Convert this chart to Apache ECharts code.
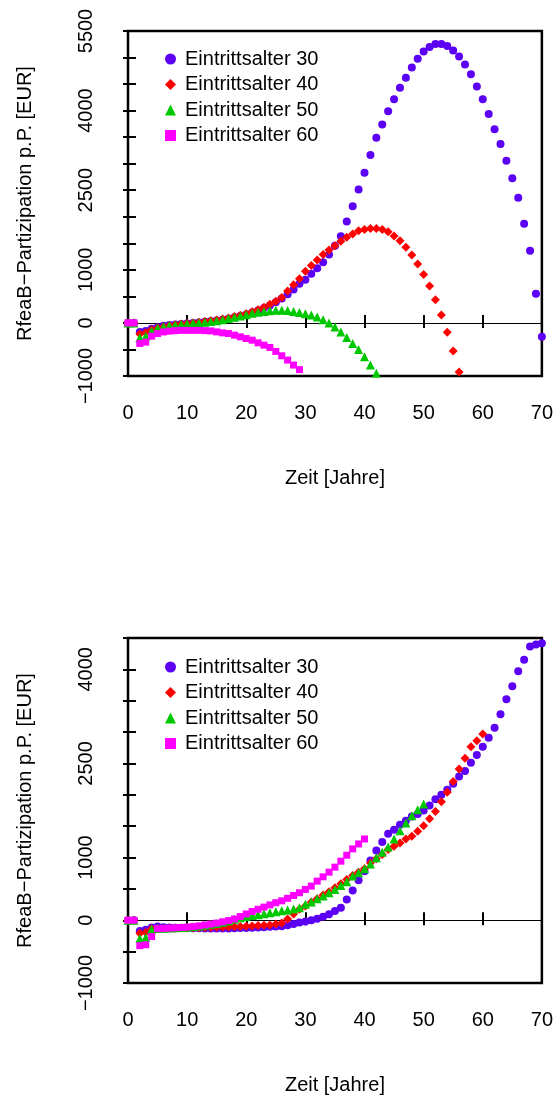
<!DOCTYPE html>
<html>
<head>
<meta charset="utf-8">
<script src="https://cdn.jsdelivr.net/npm/echarts@6/dist/echarts.min.js"></script>
<style>
html,body{margin:0;padding:0;background:#fff;}
#chart{width:556px;height:1098px;}
</style>
</head>
<body>
<div id="chart"></div>
<script>
// ---------- data ----------
const seriesNames = ['Eintrittsalter 30', 'Eintrittsalter 40', 'Eintrittsalter 50', 'Eintrittsalter 60'];
const years = [0,1,2,3,4,5,6,7,8,9,10,11,12,13,14,15,16,17,18,19,20,21,22,23,24,25,26,27,28,29,30,31,32,33,34,35,36,37,38,39,40,41,42,43,44,45,46,47,48,49,50,51,52,53,54,55,56,57,58,59,60,61,62,63,64,65,66,67,68,69,70];
const xTicks = [0,10,20,30,40,50,60,70];
const yLabelsTop = [-1000, 0, 1000, 2500, 4000, 5500];
const yLabelsBottom = [-1000, 0, 1000, 2500, 4000];

// upper panel
const top30 = [0,0,-170,-150,-110,-80,-55,-40,-30,-20,-10,0,10,20,30,45,60,80,105,130,160,195,235,280,330,390,460,540,630,737,812,925,1031,1144,1287,1456,1631,1912,2200,2512,2831,3162,3487,3737,3987,4212,4431,4619,4812,4975,5112,5200,5256,5256,5219,5131,5019,4869,4687,4456,4212,3937,3650,3369,3056,2725,2356,1869,1362,550,-262];
const top40 = [0,0,-210,-185,-130,-95,-70,-50,-35,-22,-10,0,12,25,40,55,75,95,120,145,175,210,250,295,350,410,480,600,720,831,975,1081,1187,1287,1375,1456,1537,1612,1675,1737,1762,1781,1781,1762,1719,1637,1550,1425,1281,1112,912,694,437,150,-175,-531,-925];
const top50 = [0,0,-280,-250,-150,-100,-70,-50,-38,-28,-18,-8,2,12,25,40,60,85,105,130,155,180,200,215,230,240,240,232,215,197,175,150,112,62,0,-75,-169,-275,-387,-500,-637,-794,-950];
const top60 = [0,0,-387,-362,-250,-200,-170,-155,-145,-140,-140,-140,-140,-145,-150,-169,-187,-200,-231,-262,-294,-325,-375,-419,-462,-537,-619,-700,-794,-880];

// lower panel
const bot30 = [0,0,-170,-150,-115,-100,-110,-115,-120,-122,-125,-127,-128,-130,-130,-130,-130,-130,-128,-125,-122,-120,-115,-110,-105,-100,-95,-80,-60,-37,-21,0,26,58,95,148,201,333,476,640,783,952,1111,1249,1381,1444,1524,1587,1656,1693,1751,1831,1931,2000,2079,2175,2291,2381,2513,2635,2767,2910,3069,3286,3524,3730,3968,4153,4365,4397,4418];
const bot40 = [0,0,-205,-195,-135,-130,-130,-128,-126,-124,-122,-120,-118,-116,-114,-112,-110,-108,-105,-100,-95,-90,-85,-80,-75,-60,-45,20,100,175,228,291,344,402,455,519,582,651,714,767,820,915,979,1048,1127,1180,1233,1296,1339,1418,1508,1619,1735,1889,2042,2212,2413,2582,2767,2862,2968];
const bot50 = [0,0,-290,-275,-145,-130,-128,-125,-120,-115,-110,-100,-90,-78,-65,-50,-30,-10,15,40,60,75,90,105,120,135,150,165,180,201,254,291,344,386,439,492,556,614,704,757,820,899,995,1085,1169,1296,1429,1550,1667,1762,1852];
const bot60 = [0,0,-405,-390,-260,-135,-130,-125,-120,-115,-110,-100,-90,-75,-60,-45,-25,-5,20,60,100,140,175,210,245,280,310,350,395,439,492,545,624,693,767,847,942,1037,1138,1217,1296];

// ---------- styles ----------
const colors = ['#5b00f5', '#ff0000', '#00c800', '#ff00ff'];
const symbols = ['circle', 'diamond', 'triangle', 'rect'];
const symSizes = [8, 9, 9, 7];
const FONT = 'Liberation Sans, Arial, Helvetica, sans-serif';

const chart = echarts.init(document.getElementById('chart'), null, {renderer: 'canvas'});

function pairs(vals) { return vals.map((v, i) => [years[i], v]); }

const grids = [
  {left: 128, top: 31, width: 416, height: 345},
  {left: 128, top: 638, width: 416, height: 345}
];
const yMax = [5500, 4500];
const yLabelSets = [yLabelsTop, yLabelsBottom];
const panelData = [[top30, top40, top50, top60], [bot30, bot40, bot50, bot60]];

const xAxes = [], yAxes = [], series = [], legends = [];
grids.forEach((g, gi) => {
  g.show = true; g.borderColor = '#000'; g.borderWidth = 2.5; g.backgroundColor = 'transparent';
  xAxes.push({
    type: 'value', gridIndex: gi, min: 0, max: 70, interval: 10, position: 'bottom',
    axisLine: {show: false}, splitLine: {show: false},
    axisTick: {show: true, inside: true, length: 8, lineStyle: {color: '#000', width: 2}},
    axisLabel: {show: true, margin: 27, color: '#000', fontSize: 20, fontFamily: FONT,
      formatter: v => xTicks.indexOf(v) >= 0 ? String(v) : ''},
    name: 'Zeit [Jahre]', nameLocation: 'middle', nameGap: 92,
    nameTextStyle: {color: '#000', fontSize: 20, fontFamily: FONT}
  });
  xAxes.push({
    type: 'value', gridIndex: gi, min: 0, max: 70, interval: 10, position: 'top',
    axisLine: {show: false}, splitLine: {show: false}, axisLabel: {show: false},
    axisTick: {show: true, inside: true, length: 5, lineStyle: {color: '#000', width: 2}}
  });
  yAxes.push({
    type: 'value', gridIndex: gi, min: -1000, max: yMax[gi], interval: 500, position: 'left',
    axisLine: {show: false}, splitLine: {show: false},
    axisTick: {show: true, inside: true, length: 8, lineStyle: {color: '#000', width: 2}},
    axisLabel: {show: true, rotate: 90, margin: 32, color: '#000', fontSize: 20, fontFamily: FONT,
      formatter: v => {
        if (yLabelSets[gi].indexOf(v) < 0) return '';
        return v < 0 ? '\u2212' + Math.abs(v) : String(v);
      }},
    name: 'RfeaB\u2212Partizipation p.P. [EUR]', nameLocation: 'middle', nameGap: 93, nameRotate: 90,
    nameTextStyle: {color: '#000', fontSize: 20, fontFamily: FONT}
  });
  yAxes.push({
    type: 'value', gridIndex: gi, min: -1000, max: yMax[gi], interval: 500, position: 'right',
    axisLine: {show: false}, splitLine: {show: false}, axisLabel: {show: false},
    axisTick: {show: true, inside: true, length: 5, lineStyle: {color: '#000', width: 2}}
  });

  panelData[gi].forEach((vals, si) => {
    const s = {
      type: 'scatter', name: seriesNames[si],
      xAxisIndex: gi * 2, yAxisIndex: gi * 2,
      symbol: symbols[si], symbolSize: symSizes[si],
      itemStyle: {color: colors[si], opacity: 1},
      data: pairs(vals), clip: true, z: 3 + si, animation: false
    };
    if (si === 0) {
      s.markLine = {
        silent: true, symbol: 'none', animation: false,
        label: {show: false},
        lineStyle: {color: '#000', width: 1, type: 'solid'},
        data: [{yAxis: 0}],
        z: 1
      };
    }
    series.push(s);
  });

  legends.push({
    orient: 'vertical', left: 160, top: gi === 0 ? 44 : 652,
    itemWidth: 11, itemHeight: 11, itemGap: 5.5,
    textStyle: {color: '#000', fontSize: 20, fontFamily: FONT, lineHeight: 20, padding: [0, 0, 0, 4]},
    data: seriesNames.map((n, si) => ({name: n, icon: symbols[si]})),
    selectedMode: false
  });
});

chart.setOption({
  animation: false,
  backgroundColor: '#fff',
  grid: grids,
  xAxis: xAxes,
  yAxis: yAxes,
  legend: legends,
  series: series
});
</script>
</body>
</html>
